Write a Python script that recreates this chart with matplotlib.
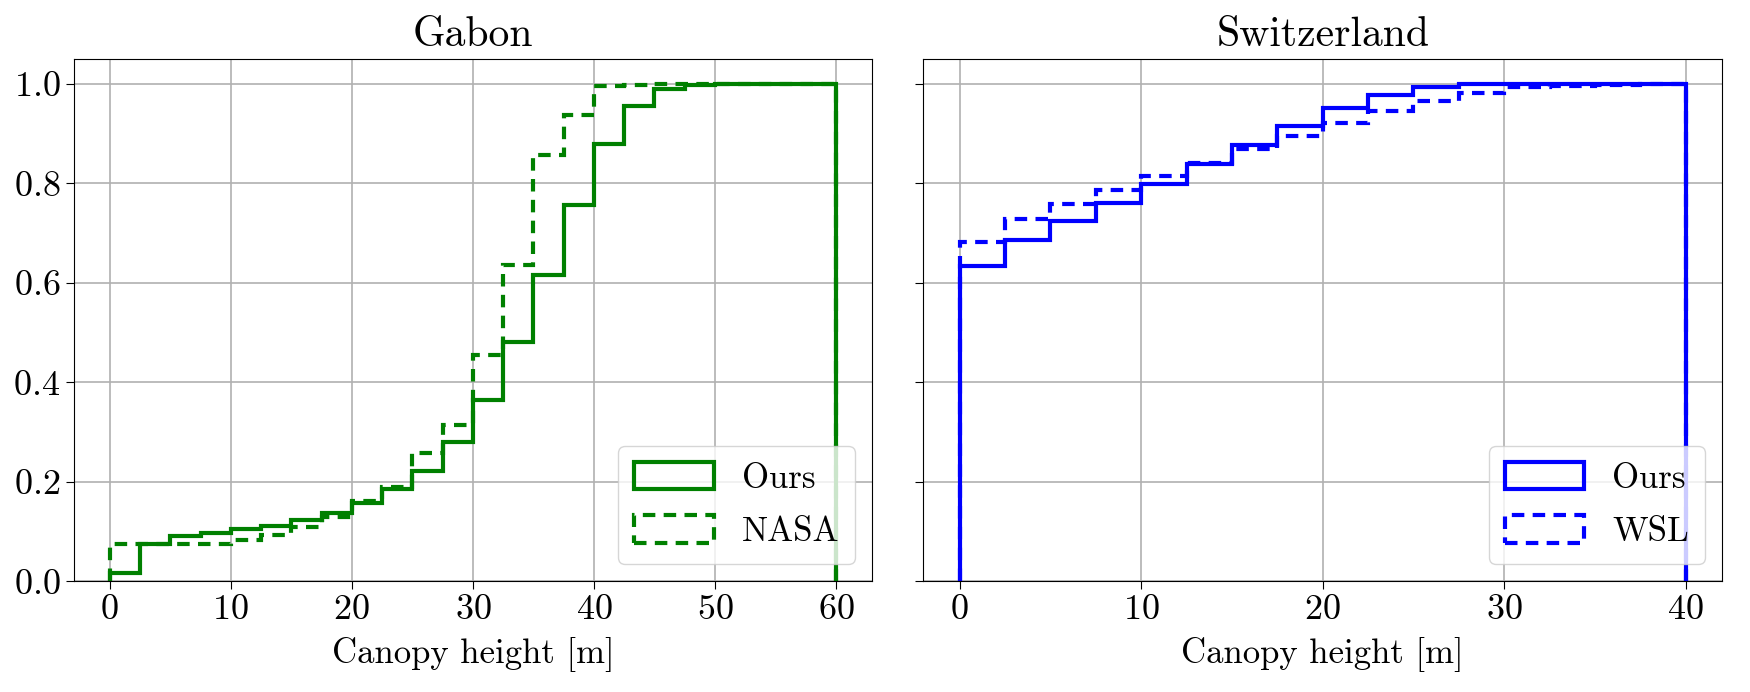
import numpy as np
import matplotlib
matplotlib.use("Agg")
import matplotlib.pyplot as plt

plt.rcParams['font.family'] = 'serif'
plt.rcParams['font.serif'] = ['cmr10']
plt.rcParams['mathtext.fontset'] = 'cm'
plt.rcParams['axes.formatter.use_mathtext'] = True

# bin edges (2.5 m bins)
edges_gabon = np.arange(0, 60.1, 2.5)
edges_swiss = np.arange(0, 40.1, 2.5)

# cumulative fraction per bin
gabon_ours = [0.017, 0.074, 0.090, 0.097, 0.105, 0.112, 0.123, 0.137, 0.158, 0.185,
              0.221, 0.280, 0.365, 0.480, 0.616, 0.757, 0.878, 0.956, 0.989, 0.997,
              0.999, 1.0, 1.0, 1.0]
gabon_nasa = [0.075, 0.075, 0.075, 0.075, 0.083, 0.093, 0.110, 0.129, 0.161, 0.190,
              0.257, 0.314, 0.455, 0.635, 0.856, 0.938, 0.995, 0.998, 0.999, 1.0,
              1.0, 1.0, 1.0, 1.0]

swiss_ours = [0.633, 0.685, 0.724, 0.761, 0.798, 0.839, 0.877, 0.915, 0.952, 0.978,
              0.993, 0.999, 1.0, 1.0, 1.0, 1.0]
swiss_wsl = [0.682, 0.728, 0.758, 0.786, 0.814, 0.841, 0.868, 0.895, 0.922, 0.946,
             0.965, 0.981, 0.993, 0.996, 0.998, 1.0]

panels = [
    ("Gabon", edges_gabon, gabon_ours, gabon_nasa, "NASA", "green"),
    ("Switzerland", edges_swiss, swiss_ours, swiss_wsl, "WSL", "blue"),
]

fig, axes = plt.subplots(1, 2, figsize=(17.5, 6.92), dpi=100, sharey=True)
fig.subplots_adjust(left=0.042, right=0.984, top=0.915, bottom=0.16, wspace=0.064)

for ax, (title, edges, ours, other, other_name, col) in zip(axes, panels):
    ax.hist(edges[:-1], bins=edges, weights=ours, histtype='step',
            color=col, lw=3.0, label='Ours')
    ax.hist(edges[:-1], bins=edges, weights=other, histtype='step',
            color=col, lw=3.0, ls=(0, (3.0, 2.0)), label=other_name)
    ax.set_title(title, fontsize=30, pad=9)
    ax.set_xlabel('Canopy height [m]', fontsize=25, labelpad=8)
    ax.grid(True, color='#b0b0b0', lw=1.2)
    ax.set_axisbelow(True)
    ax.tick_params(labelsize=26, length=6)
    ax.legend(loc='lower right', fontsize=25, labelspacing=0.6,
              handlelength=2.3, handleheight=0.85, borderpad=0.45,
              handletextpad=0.8)

axes[0].set_ylim(0, 1.05)
axes[0].set_yticks([0.0, 0.2, 0.4, 0.6, 0.8, 1.0])

fig.savefig('out.png', dpi=100)
